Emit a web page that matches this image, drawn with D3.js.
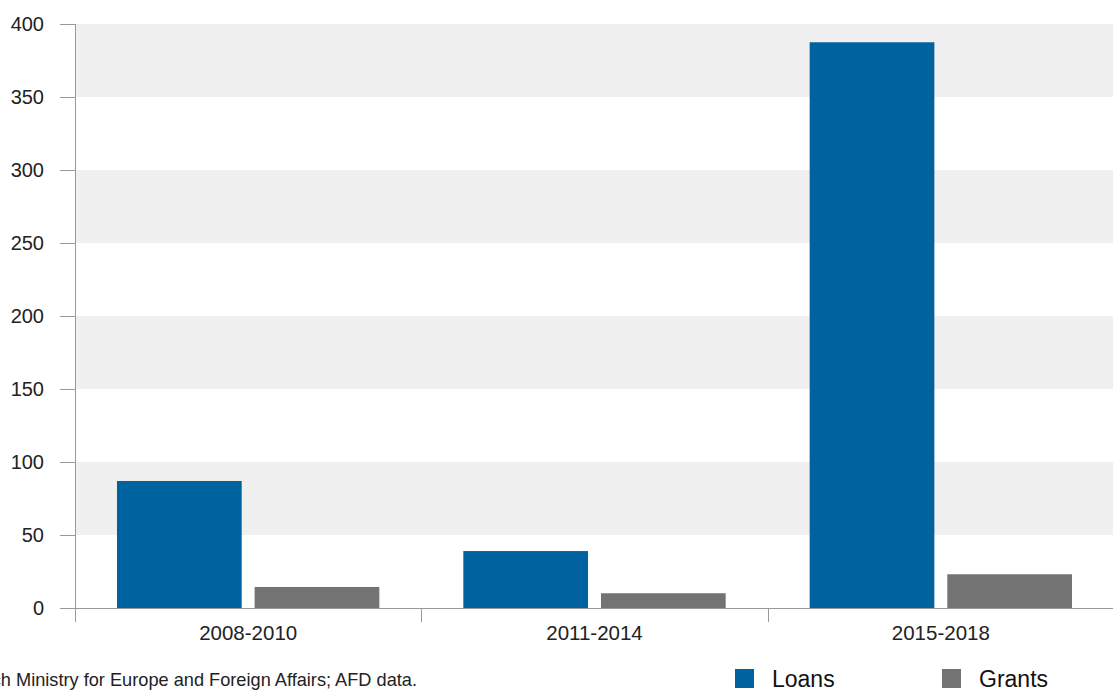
<!DOCTYPE html>
<html>
<head>
<meta charset="utf-8">
<script src="https://cdn.jsdelivr.net/npm/d3@7"></script>
<style>
  html, body { margin: 0; padding: 0; background: #fff; }
  svg { display: block; font-family: "Liberation Sans", Arial, Helvetica, sans-serif; }
</style>
</head>
<body>
<svg id="chart" width="1113" height="691"></svg>
<script>
// Periods, series and values (EUR millions)
const periods = ["2008-2010", "2011-2014", "2015-2018"];
const seriesNames = ["Loans", "Grants"];
const loans = [87, 39, 387.5];
const grants = [14.4, 10.1, 23.1];
const yTicks = [0, 50, 100, 150, 200, 250, 300, 350, 400];
const sourceNote = "Source: French Ministry for Europe and Foreign Affairs; AFD data.";

const colors = { Loans: "#0063a0", Grants: "#737373" };

const width = 1113, height = 691;
const margin = { left: 75, right: -1, top: 24, bottom: 83 };
const x0 = margin.left, x1 = width - margin.right;
const yBase = height - margin.bottom;

const svg = d3.select("#chart");

const x = d3.scaleBand().domain(periods).range([x0, x1]).padding(0);
const xInner = d3.scaleBand().domain(seriesNames).range([0, x.bandwidth()])
  .paddingInner(0.094).paddingOuter(0.305);
const y = d3.scaleLinear().domain([0, 400]).range([yBase, margin.top]);

// Alternating horizontal bands
const bands = d3.range(0, 400, 50).filter(v => (v / 50) % 2 === 1);
svg.append("g").selectAll("rect").data(bands).join("rect")
  .attr("x", x0).attr("width", x1 - x0)
  .attr("y", d => y(d + 50)).attr("height", d => y(d) - y(d + 50))
  .attr("fill", "#f0f0f0");

// Bars
const rows = periods.map((p, i) => ({ period: p, values: [
  { key: "Loans", value: loans[i] }, { key: "Grants", value: grants[i] }
]}));
svg.append("g").selectAll("g").data(rows).join("g")
  .attr("transform", d => `translate(${x(d.period)},0)`)
  .selectAll("rect").data(d => d.values).join("rect")
  .attr("x", d => xInner(d.key)).attr("width", xInner.bandwidth())
  .attr("y", d => y(d.value)).attr("height", d => y(0) - y(d.value))
  .attr("fill", d => colors[d.key]);

// Y axis
const yAxis = svg.append("g").attr("transform", `translate(${x0},0)`)
  .call(d3.axisLeft(y).tickValues(yTicks).tickSize(15).tickPadding(16).tickFormat(d3.format("d")));
yAxis.select(".domain").remove();
yAxis.selectAll(".tick line").attr("stroke", "#999");
yAxis.selectAll(".tick text").attr("font-size", 20).attr("fill", "#222")
  .attr("font-family", "Liberation Sans, Arial, sans-serif");
svg.append("line").attr("x1", x0 + 0.5).attr("x2", x0 + 0.5)
  .attr("y1", margin.top).attr("y2", yBase + 14).attr("stroke", "#999");

// X axis baseline with period separators
const xAxis = svg.append("g").attr("transform", `translate(0,${yBase})`)
  .call(d3.axisBottom(x).tickSize(0).tickPadding(17));
xAxis.select(".domain").attr("stroke", "#999");
xAxis.selectAll(".tick text").attr("font-size", 20.5).attr("fill", "#222")
  .attr("font-family", "Liberation Sans, Arial, sans-serif");
svg.append("g").selectAll("line").data(periods.slice(1)).join("line")
  .attr("x1", d => Math.round(x(d)) + 0.5).attr("x2", d => Math.round(x(d)) + 0.5)
  .attr("y1", yBase).attr("y2", yBase + 14).attr("stroke", "#999");

// Source note (runs past the left edge)
svg.append("text").attr("x", 417).attr("y", 686).attr("text-anchor", "end")
  .attr("font-size", 18.2).attr("fill", "#222").text(sourceNote);

// Legend
const legendX = [735, 942];
const legend = svg.append("g").selectAll("g").data(seriesNames).join("g")
  .attr("transform", (d, i) => `translate(${legendX[i]},669)`);
legend.append("rect").attr("width", 19).attr("height", 19).attr("fill", d => colors[d]);
legend.append("text").attr("x", 37).attr("y", 18).attr("font-size", 23)
  .attr("fill", "#111").text(d => d);
</script>
</body>
</html>
